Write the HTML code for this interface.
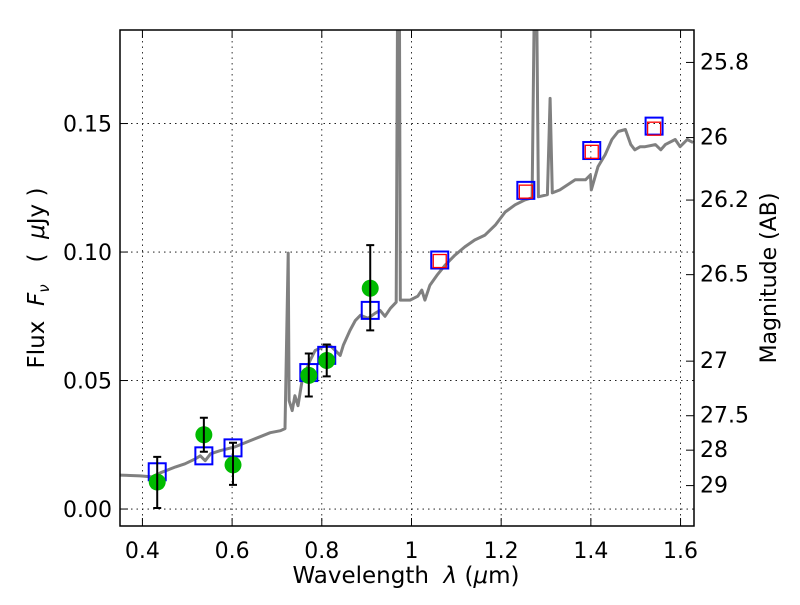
<!DOCTYPE html>
<html><head><meta charset="utf-8"><style>
body{margin:0;background:#fff;}
svg{font-family:"DejaVu Sans","Liberation Sans",sans-serif;}
text{white-space:pre;}
</style></head><body>
<svg id="chart" width="800" height="600">
<defs><clipPath id="clip"><rect x="120" y="30" width="574" height="496"/></clipPath></defs>
<rect x="0" y="0" width="800" height="600" fill="#fff"/>
<g id="grid"></g>
<g id="plot" clip-path="url(#clip)"></g>
<rect x="120" y="30" width="574" height="496" fill="none" stroke="#000" stroke-width="1.5"/>
<g id="axes"></g>
<text x="406" y="583" font-size="23" text-anchor="middle" xml:space="preserve">Wavelength  <tspan font-style="italic">λ</tspan> (<tspan font-style="italic">μ</tspan>m)</text>
<text transform="translate(44,278) rotate(-90)" font-size="23" text-anchor="middle" xml:space="preserve">Flux  <tspan font-style="italic">F</tspan><tspan font-style="italic" font-size="15" dy="5">ν</tspan><tspan dy="-5">   (  </tspan><tspan font-style="italic">μ</tspan>Jy )</text>
<text transform="translate(776,278) rotate(-90)" font-size="22" text-anchor="middle">Magnitude (AB)</text>
</svg>
<script>
const specLam=[0.34,0.395,0.422,0.440,0.474,0.495,0.518,0.529,0.540,0.552,0.573,0.607,0.640,0.662,0.685,0.708,0.718,0.725,0.727,0.734,0.740,0.747,0.756,0.765,0.774,0.785,0.796,0.807,0.818,0.830,0.841,0.848,0.863,0.875,0.886,0.903,0.919,0.930,0.941,0.953,0.966,0.969,0.973,0.975,0.980,0.997,1.014,1.023,1.030,1.041,1.057,1.075,1.097,1.119,1.141,1.164,1.187,1.209,1.231,1.253,1.269,1.274,1.279,1.283,1.303,1.309,1.314,1.331,1.365,1.388,1.399,1.401,1.416,1.432,1.447,1.461,1.477,1.489,1.498,1.510,1.521,1.544,1.556,1.566,1.588,1.599,1.615,1.628];
const specFlux=[0.0133,0.0129,0.0125,0.0141,0.0164,0.0176,0.0195,0.0207,0.0188,0.0215,0.0227,0.0242,0.0266,0.0281,0.0297,0.0305,0.0313,0.0996,0.0422,0.0383,0.0441,0.0402,0.050,0.0539,0.0578,0.0617,0.0625,0.0637,0.0637,0.0617,0.0598,0.0637,0.0695,0.0734,0.0754,0.0742,0.0762,0.0773,0.075,0.0781,0.0805,0.2,0.2,0.0813,0.0813,0.0813,0.0828,0.0852,0.0813,0.0871,0.091,0.0949,0.0988,0.102,0.1047,0.1066,0.1105,0.1156,0.1184,0.1203,0.1211,0.2,0.2,0.1215,0.1223,0.1598,0.123,0.1242,0.1281,0.1281,0.130,0.1242,0.1332,0.1379,0.1438,0.1469,0.1477,0.1418,0.1398,0.141,0.141,0.1418,0.1398,0.1418,0.1438,0.141,0.1438,0.1426];
const obsLam=[0.433,0.537,0.602,0.771,0.811,0.908];
const obsFlux=[0.0105,0.0289,0.0172,0.052,0.0578,0.0859];
const obsErrHi=[0.0203,0.0355,0.0258,0.0605,0.064,0.1027];
const obsErrLo=[0.0004,0.0223,0.0094,0.0438,0.0516,0.0695];
const modelLam=[0.433,0.537,0.602,0.771,0.811,0.908,1.063,1.255,1.402,1.541];
const modelFlux=[0.0145,0.0207,0.0238,0.0531,0.0598,0.0773,0.0969,0.124,0.1395,0.149];
const predLam=[1.063,1.255,1.402,1.541];
const predFlux=[0.0965,0.1235,0.139,0.148];
const xTicks=[0.4,0.6,0.8,1.0,1.2,1.4,1.6];
const xTickLabels=["0.4","0.6","0.8","1","1.2","1.4","1.6"];
const yTicks=[0,0.05,0.10,0.15];
const yTickLabels=["0.00","0.05","0.10","0.15"];
const magTicks=[25.8,26,26.2,26.5,27,27.5,28,29];
const magTickLabels=["25.8","26","26.2","26.5","27","27.5","28","29"];

const X0=120,X1=694,Y0=526,Y1=30,LMIN=0.35,LMAX=1.63,FMIN=-0.0066,FMAX=0.1864;
const sx=l=>X0+(l-LMIN)/(LMAX-LMIN)*(X1-X0);
const sy=f=>Y0-(f-FMIN)/(FMAX-FMIN)*(Y0-Y1);
const magToFlux=m=>Math.pow(10,(23.9-m)/2.5);
const NS="http://www.w3.org/2000/svg";
function mk(tag,attrs,parent){const e=document.createElementNS(NS,tag);for(const k in attrs)e.setAttribute(k,attrs[k]);parent.appendChild(e);return e;}
const grid=document.getElementById('grid'),plot=document.getElementById('plot'),axes=document.getElementById('axes');

xTicks.forEach((t,i)=>{
  const x=sx(t);
  let g=mk('line',{x1:x,x2:x,y1:Y1,y2:Y0,stroke:'#000','stroke-width':0.8,'stroke-dasharray':'1.5,4'},grid);
  
  
  let a=mk('line',{x1:x,x2:x,y1:Y0,y2:Y0-8,stroke:'#000','stroke-width':1},axes);
  
  
  let b=mk('line',{x1:x,x2:x,y1:Y1,y2:Y1+8,stroke:'#000','stroke-width':1},axes);
  
  
  let tx=mk('text',{x:x,y:558,'font-size':22,'text-anchor':'middle'},axes);
  tx.textContent=xTickLabels[i];
  
  
});
yTicks.forEach((t,i)=>{
  const y=sy(t);
  let g=mk('line',{x1:X0,x2:X1,y1:y,y2:y,stroke:'#000','stroke-width':0.8,'stroke-dasharray':'1.5,4'},grid);
  
  
  let a=mk('line',{x1:X0,x2:X0+8,y1:y,y2:y,stroke:'#000','stroke-width':1},axes);
  
  
  let tx=mk('text',{x:112,y:y+8,'font-size':22,'text-anchor':'end'},axes);
  tx.textContent=yTickLabels[i];
  
  
});
magTicks.forEach((m,i)=>{
  const y=sy(magToFlux(m));
  let a=mk('line',{x1:X1-8,x2:X1,y1:y,y2:y,stroke:'#000','stroke-width':1},axes);
  
  
  let tx=mk('text',{x:700,y:y+7,'font-size':22,'text-anchor':'start'},axes);
  tx.textContent=magTickLabels[i];
  
  
});

let pts=specLam.map((l,i)=>sx(l).toFixed(1)+','+sy(specFlux[i]).toFixed(1)).join(' ');
let sp=mk('polyline',{points:pts,fill:'none',stroke:'#808080','stroke-width':3,'stroke-linejoin':'round'},plot);



modelLam.forEach((l,i)=>{
  let r=mk('rect',{x:sx(l)-8.5,y:sy(modelFlux[i])-8.5,width:17,height:17,fill:'none',stroke:'#0000ff','stroke-width':2},plot);
  
  
});
predLam.forEach((l,i)=>{
  let r=mk('rect',{x:sx(l)-6.5,y:sy(predFlux[i])-6.5,width:13,height:13,fill:'none',stroke:'#ff0000','stroke-width':1.3},plot);
  
  
});
obsLam.forEach((l,i)=>{
  const x=sx(l);
  let c=mk('circle',{cx:x,cy:sy(obsFlux[i]),r:8.5,fill:'#00bb00'},plot);
  
  
  const yh=sy(obsErrHi[i]),yl=sy(obsErrLo[i]);
  let e=mk('path',{d:`M${x},${yh}V${yl}M${x-4},${yh}H${x+4}M${x-4},${yl}H${x+4}`,stroke:'#000','stroke-width':2,fill:'none'},plot);
  
  
});
</script>
</body></html>
